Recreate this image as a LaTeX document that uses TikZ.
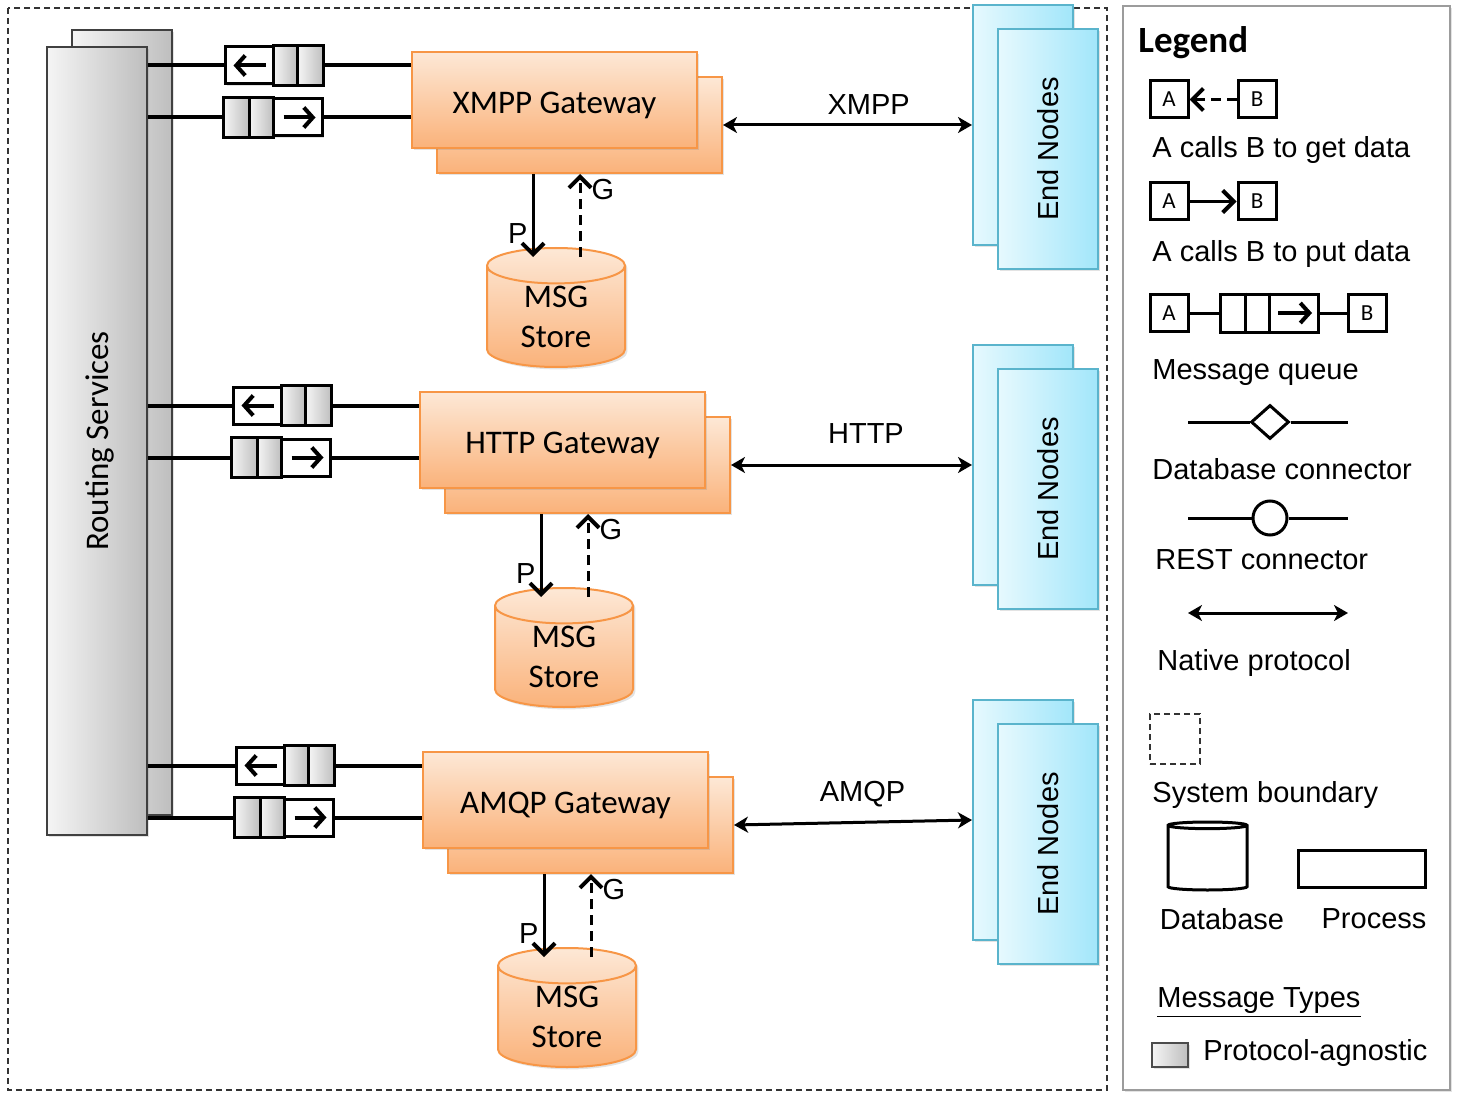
\documentclass[tikz,border=0pt]{standalone}
\usepackage{fontspec}
\setmainfont{Liberation Sans}
\newfontfamily\clbfont{Carlito}
\usepackage{tikz}
\usetikzlibrary{shapes.geometric, arrows.meta, shadows}
\definecolor{gwtop}{HTML}{FDE8D6}
\definecolor{gwbot}{HTML}{FAB27A}
\definecolor{gwline}{HTML}{F79646}
\definecolor{enleft}{HTML}{E6F9FE}
\definecolor{enright}{HTML}{A2E6FA}
\definecolor{enline}{HTML}{5AB4CC}
\definecolor{rsleft}{HTML}{F5F5F5}
\definecolor{rsright}{HTML}{BEBEBE}
\definecolor{lgline}{HTML}{9C9C9C}
\newcommand{\clbsize}{\clbfont\fontsize{16.5}{20}\selectfont}
\tikzstyle{soft} = [drop shadow={opacity=0.22, shadow xshift=1.2pt, shadow yshift=-1.2pt}]
\tikzstyle{routing} = [rectangle,
minimum width=50pt,
draw=black!75, line width=1pt,
left color=rsleft, right color=rsright,
soft]
\tikzstyle{gateway} = [rectangle,
minimum width=142.5pt,
minimum height=48pt,
text height=16.5pt, text depth=3pt,
draw=gwline, line width=1pt,
top color=gwtop, bottom color=gwbot,
soft,
font=\clbsize]
\tikzstyle{store} = [cylinder, shape border rotate=90, aspect=0.5,
minimum width=69pt,
minimum height=59.5pt,
inner sep=0pt,
anchor=shape center,
draw=gwline, line width=1pt,
top color=gwtop, bottom color=gwbot,
align=center,
soft,
font=\clbsize]
\tikzstyle{endnode} = [rectangle,
minimum width=50pt,
minimum height=120pt,
draw=enline, line width=1pt,
left color=enleft, right color=enright,
soft]
\tikzstyle{queue} = [rectangle,
minimum width=48.5pt,
minimum height=18.5pt,
inner sep=0pt,
draw=black, line width=1.5pt,
fill=white, soft]
\tikzstyle{cell} = [draw=black, line width=1.5pt, left color=rsleft, right color=rsright]
\tikzstyle{qarrow} = [line width=2pt, -{Straight Barb[length=4.5pt,width=10pt]}]
\tikzstyle{link} = [line width=2pt]
\tikzstyle{native} = [line width=1.5pt, {Stealth[length=7pt,width=8pt,inset=2pt]}-{Stealth[length=7pt,width=8pt,inset=2pt]}]
\tikzstyle{put} = [line width=1.5pt, -{Straight Barb[length=5.5pt,width=11pt,line width=2pt]}]
\tikzstyle{get} = [line width=1.5pt, dash pattern=on 5pt off 3pt, -{Straight Barb[length=5.5pt,width=11pt,line width=2pt]}]
\tikzstyle{boundary} = [draw=black!80, line width=0.7pt, dash pattern=on 3pt off 2pt]
\tikzstyle{legendframe} = [rectangle, minimum width=163.5pt, minimum height=542pt, draw=lgline, line width=1pt, fill=white, soft]
\tikzstyle{lgbox} = [rectangle, minimum width=19pt, minimum height=18.5pt, inner sep=0pt, text depth=0pt, draw=black, line width=1.5pt, fill=white, font=\clbfont\fontsize{11.5}{12}\selectfont]
\tikzstyle{lgtext} = [anchor=west, inner sep=0pt, yshift=-1.5pt]
\begin{document}
\begin{tikzpicture}[x=0.5pt, y=-0.5pt, font=\fontsize{14.5}{17}\selectfont]
	\useasboundingbox (0,0) rectangle (1458,1102);
	\draw[boundary] (8,8) rectangle (1107,1090);

	\node (rsb) [routing, minimum height=392.5pt] at (122,422.5) {};
	\node (rs) [routing, minimum height=394pt, label={[rotate=90, text depth=0pt, font=\clbsize]center:Routing Services}] at (97,441) {};

	\foreach \nm/\dx/\dy/\ey/\lpos/\lup in {XMPP/0/0/0/0.585/1, HTTP/8/340/340/0.56/6.5, AMQP/11/700/695/0.54/3.5} {
		\node (endb\nm) [endnode] at (1023,125+\ey) {};
		\node (end\nm) [endnode, label={[rotate=90, text depth=0pt]center:End Nodes}] at (1048,149+\ey) {};
		\node (gwb\nm) [gateway] at (579.5+\dx,125+\dy) {};
		\node (gw\nm) [gateway] at (554.5+\dx,100+\dy) {\nm\ Gateway};
		\node (store\nm) [store] at (556+\dx,307.5+\dy) {MSG\\Store};

		\node (qget\nm) [queue] at (273.5+\dx,65.5+\dy) {};
		\draw[cell] (qget\nm.north) rectangle ([xshift=12.125pt]qget\nm.south);
		\draw[cell] ([xshift=12.125pt]qget\nm.north) rectangle (qget\nm.south east);
		\draw[qarrow] ([xshift=-4pt]qget\nm.center) -- ([xshift=-20pt]qget\nm.center);
		\node (qput\nm) [queue] at (273.5+\dx,117.5+\dy) {};
		\draw[cell] (qput\nm.north west) rectangle ([xshift=-12.125pt]qput\nm.south);
		\draw[cell] ([xshift=-12.125pt]qput\nm.north) rectangle (qput\nm.south);
		\draw[qarrow] ([xshift=5pt]qput\nm.center) -- ([xshift=21pt]qput\nm.center);

		\draw[link] (qget\nm.west) -- (qget\nm.west -| rs.east)
					(qget\nm.east) -- (qget\nm.east -| gw\nm.west)
					(qput\nm.west) -- (qput\nm.west -| rs.east)
					(qput\nm.east) -- (qput\nm.east -| gw\nm.west);

		\draw[native] (gwb\nm.east) -- (endb\nm.west) node[pos=\lpos, above, yshift=\lup pt] {\nm};

		\coordinate (ptip\nm) at ([xshift=-11.5pt,yshift=-5pt]store\nm.north);
		\coordinate (gtail\nm) at ([xshift=12pt,yshift=-5pt]store\nm.north);
		\draw[put] (ptip\nm |- gwb\nm.south) -- (ptip\nm) node[pos=0.72, left, inner sep=2pt] {P};
		\draw[get] (gtail\nm) -- (gtail\nm |- gwb\nm.south) node[pos=0.81, right, inner sep=5pt] {G};
	}

	\node (lgframe) [legendframe] at (1286.5,548) {};
	\node (lgtitle) [lgtext, font=\clbfont\bfseries\fontsize{18.5}{22}\selectfont] at (1138,40) {Legend};

	\node (ga) [lgbox] at (1169,99.5) {A};
	\node (gb) [lgbox] at (1257,99.5) {B};
	\draw[get] (gb) -- (ga);
	\node (gtext) [lgtext] at (1152,147) {A calls B to get data};

	\node (pa) [lgbox] at (1169,201.5) {A};
	\node (pb) [lgbox] at (1257,201.5) {B};
	\draw[put] (pa) -- (pb);
	\node (ptext) [lgtext] at (1152,251) {A calls B to put data};

	\node (qa) [lgbox] at (1169,313) {A};
	\node (qq) [queue, minimum width=49pt, minimum height=19pt] at (1269,313) {};
	\draw[line width=1.5pt] ([xshift=-12pt]qq.north) -- ([xshift=-12pt]qq.south)
							(qq.north) -- (qq.south);
	\draw[qarrow] ([xshift=4.5pt]qq.center) -- ([xshift=21.5pt]qq.center);
	\node (qb) [lgbox] at (1367,313) {B};
	\draw[line width=1.5pt] (qa) -- (qq) (qq) -- (qb);
	\node (qtext) [lgtext] at (1152,370) {Message queue};

	\coordinate (dbl) at (1188,422);
	\coordinate (dbr) at (1348,422);
	\node (dbc) [diamond, draw, line width=1.5pt, fill=white, minimum width=19pt, minimum height=17pt, inner sep=0pt] at (1270,422) {};
	\draw[line width=1.5pt] (dbl) -- (dbc) -- (dbr);
	\node (dbtext) [lgtext] at (1152,466) {Database connector};

	\coordinate (rcl) at (1188,518);
	\coordinate (rcr) at (1348,518);
	\node (rc) [circle, draw, line width=1.5pt, fill=white, minimum size=17pt, inner sep=0pt] at (1270,518) {};
	\draw[line width=1.5pt] (rcl) -- (rc) -- (rcr);
	\node (rctext) [lgtext] at (1155,557) {REST connector};

	\coordinate (npl) at (1188,613);
	\coordinate (npr) at (1348,613);
	\draw[native] (npl) -- (npr);
	\node (nptext) [lgtext] at (1157,660) {Native protocol};

	\node (sbox) [boundary, minimum size=25pt] at (1175,739) {};
	\node (sbtext) [lgtext] at (1152,792) {System boundary};

	\node (lgdb) [cylinder, shape border rotate=90, aspect=0.5, minimum width=39.5pt, minimum height=34pt, anchor=shape center, draw, line width=1.5pt, fill=white] at (1207.5,856) {};
	\node (lgproc) [rectangle, draw, line width=1.5pt, minimum width=63.5pt, minimum height=18.5pt] at (1361.5,868.5) {};
	\node (dbname) at (1222,919) {Database};
	\node (procname) at (1374,919) {Process};

	\node (mttext) [lgtext] at (1157,1000) {\underline{Message Types}};
	\node (lgmsg) [draw=black!70, line width=0.8pt, left color=rsleft, right color=rsright, minimum width=18pt, minimum height=12pt, inner sep=0pt, soft] at (1170,1055) {};
	\node (patext) [lgtext] at (1203,1050) {Protocol-agnostic};
\end{tikzpicture}
\end{document}
